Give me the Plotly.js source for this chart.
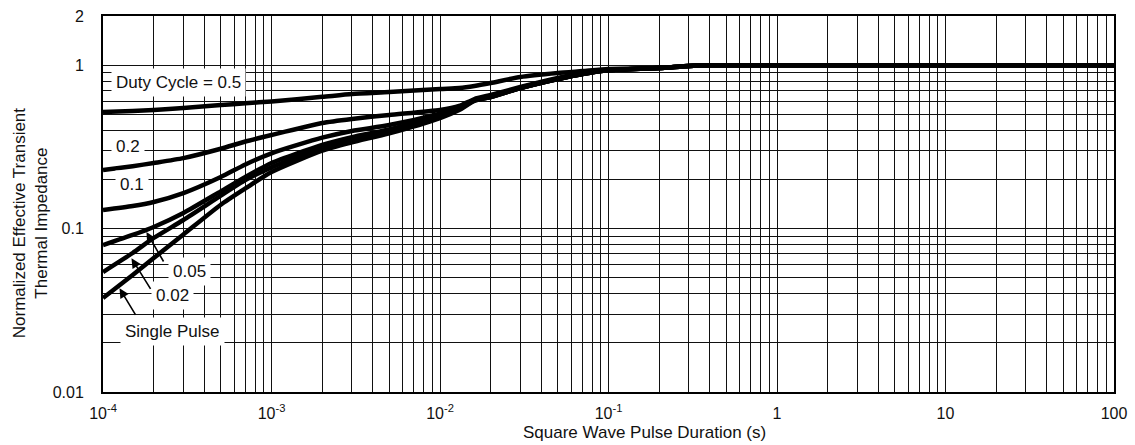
<!DOCTYPE html>
<html>
<head>
<meta charset="utf-8">
<script src="https://cdn.plot.ly/plotly-3.0.1.min.js"></script>
<style>
html,body{margin:0;padding:0;background:#fff;}
#chart{width:1135px;height:445px;}
</style>
</head>
<body>
<div id="chart"></div>
<script>
// Pulse duration (s)
const pulseDuration = [1e-4, 1.5e-4, 2e-4, 3e-4, 5e-4, 7e-4, 1e-3, 2e-3, 3e-3, 5e-3, 1e-2, 1.3e-2, 1.6e-2, 2e-2, 3e-2, 5e-2, 7e-2, 0.1, 0.2, 0.3, 0.4, 1, 10, 100];

// Normalized effective transient thermal impedance per duty cycle
const duty050 = [0.517, 0.524, 0.532, 0.547, 0.570, 0.585, 0.600, 0.640, 0.666, 0.685, 0.715, 0.725, 0.746, 0.778, 0.847, 0.896, 0.920, 0.948, 0.960, 0.990, 1.0, 1.0, 1.0, 1.0];
const duty020 = [0.228, 0.241, 0.252, 0.270, 0.308, 0.341, 0.374, 0.443, 0.469, 0.496, 0.532, 0.563, 0.621, 0.657, 0.735, 0.835, 0.896, 0.934, 0.960, 0.990, 1.0, 1.0, 1.0, 1.0];
const duty010 = [0.130, 0.1375, 0.1455, 0.165, 0.207, 0.247, 0.289, 0.360, 0.396, 0.430, 0.505, 0.547, 0.612, 0.648, 0.725, 0.823, 0.883, 0.930, 0.960, 0.990, 1.0, 1.0, 1.0, 1.0];
const duty005 = [0.0793, 0.0914, 0.1023, 0.1246, 0.169, 0.207, 0.252, 0.325, 0.363, 0.405, 0.489, 0.547, 0.612, 0.639, 0.725, 0.823, 0.883, 0.930, 0.960, 0.990, 1.0, 1.0, 1.0, 1.0];
const duty002 = [0.0542, 0.0709, 0.0876, 0.1129, 0.159, 0.198, 0.237, 0.311, 0.348, 0.396, 0.482, 0.539, 0.608, 0.639, 0.725, 0.823, 0.883, 0.930, 0.960, 0.990, 1.0, 1.0, 1.0, 1.0];
const singlePulse = [0.0376, 0.052, 0.066, 0.092, 0.140, 0.176, 0.222, 0.300, 0.337, 0.383, 0.475, 0.532, 0.605, 0.639, 0.725, 0.823, 0.883, 0.930, 0.960, 0.990, 1.0, 1.0, 1.0, 1.0];

const seriesNames = ["Duty Cycle = 0.5", "0.2", "0.1", "0.05", "0.02", "Single Pulse"];
const seriesValues = [duty050, duty020, duty010, duty005, duty002, singlePulse];

// Axis ticks and titles
const xTickVals = [1e-4, 1e-3, 1e-2, 1e-1, 1, 10, 100];
const xTickText = ["10<sup>-4</sup>", "10<sup>-3</sup>", "10<sup>-2</sup>", "10<sup>-1</sup>", "1", "10", "100"];
const yTickVals = [0.01, 0.1, 1, 2];
const yTickText = ["0.01", "0.1", "1", "2"];
const xTitle = "Square Wave Pulse Duration (s)";
const yTitle = "Normalized Effective Transient<br>Thermal Impedance";

const FONT = "Liberation Sans, Arial, sans-serif";
const TXT = "#111";

const traces = seriesValues.map((vals, i) => ({
  x: pulseDuration,
  y: vals,
  name: seriesNames[i],
  type: "scatter",
  mode: "lines",
  line: {color: "#000", width: 4.5, shape: "spline", smoothing: 0.6},
  hoverinfo: "skip"
}));

const gridCol = "#111";
const L = Math.log10;

const labelFont = {family: FONT, size: 17, color: TXT};
function label(text, x, y) {
  return {text: text, x: L(x), y: L(y), xref: "x", yref: "y", showarrow: false,
          bgcolor: "#fff", borderpad: 4, font: labelFont, xanchor: "center", yanchor: "middle"};
}
function arrow(x, y, ax, ay) {
  return {text: "", x: L(x), y: L(y), xref: "x", yref: "y", showarrow: true,
          ax: ax, ay: ay, arrowhead: 2, arrowsize: 1.2, arrowwidth: 1.6, arrowcolor: "#000", standoff: 0};
}

const layout = {
  width: 1135, height: 445,
  margin: {l: 103, r: 21, t: 16, b: 53, pad: 0},
  paper_bgcolor: "#fff", plot_bgcolor: "#fff",
  showlegend: false,
  font: {family: FONT, size: 16, color: TXT},
  xaxis: {
    type: "log", range: [-4, 2], autorange: false,
    tickmode: "array", tickvals: xTickVals, ticktext: xTickText,
    ticks: "", ticklabelstandoff: 6,
    tickfont: {family: FONT, size: 16, color: TXT},
    showgrid: true, gridcolor: gridCol, gridwidth: 1,
    minor: {dtick: "D1", showgrid: true, gridcolor: gridCol, gridwidth: 1, ticks: ""},
    showline: true, linecolor: "#000", linewidth: 2, mirror: true, zeroline: false
  },
  yaxis: {
    type: "log", range: [-2, Math.log10(2)], autorange: false,
    tickmode: "array", tickvals: yTickVals, ticktext: yTickText,
    ticks: "", ticklabelstandoff: 14,
    tickfont: {family: FONT, size: 16, color: TXT},
    showgrid: true, gridcolor: gridCol, gridwidth: 1,
    minor: {dtick: "D1", showgrid: true, gridcolor: gridCol, gridwidth: 1, ticks: ""},
    showline: true, linecolor: "#000", linewidth: 2, mirror: true, zeroline: false
  },
  annotations: [
    {text: xTitle, xref: "paper", yref: "paper", x: 0.536, y: -0.109, showarrow: false,
     xanchor: "center", yanchor: "middle", font: {family: FONT, size: 17, color: TXT}},
    {text: yTitle, xref: "paper", yref: "paper", x: -0.0722, y: 0.449, showarrow: false,
     textangle: -90, xanchor: "center", yanchor: "middle", font: {family: FONT, size: 17, color: TXT}},
    label("Duty Cycle = 0.5", 2.81e-4, 0.789),
    label("0.2", 1.40e-4, 0.316),
    label("0.1", 1.48e-4, 0.185),
    label("0.05", 3.26e-4, 0.055),
    label("0.02", 2.585e-4, 0.0387),
    label("Single Pulse", 2.585e-4, 0.0233),
    arrow(1.81e-4, 0.0953, 18, 31),
    arrow(1.476e-4, 0.0658, 20, 32),
    arrow(1.253e-4, 0.0431, 17, 28)
  ]
};

Plotly.newPlot("chart", traces, layout, {staticPlot: true, displayModeBar: false});
</script>
</body>
</html>
